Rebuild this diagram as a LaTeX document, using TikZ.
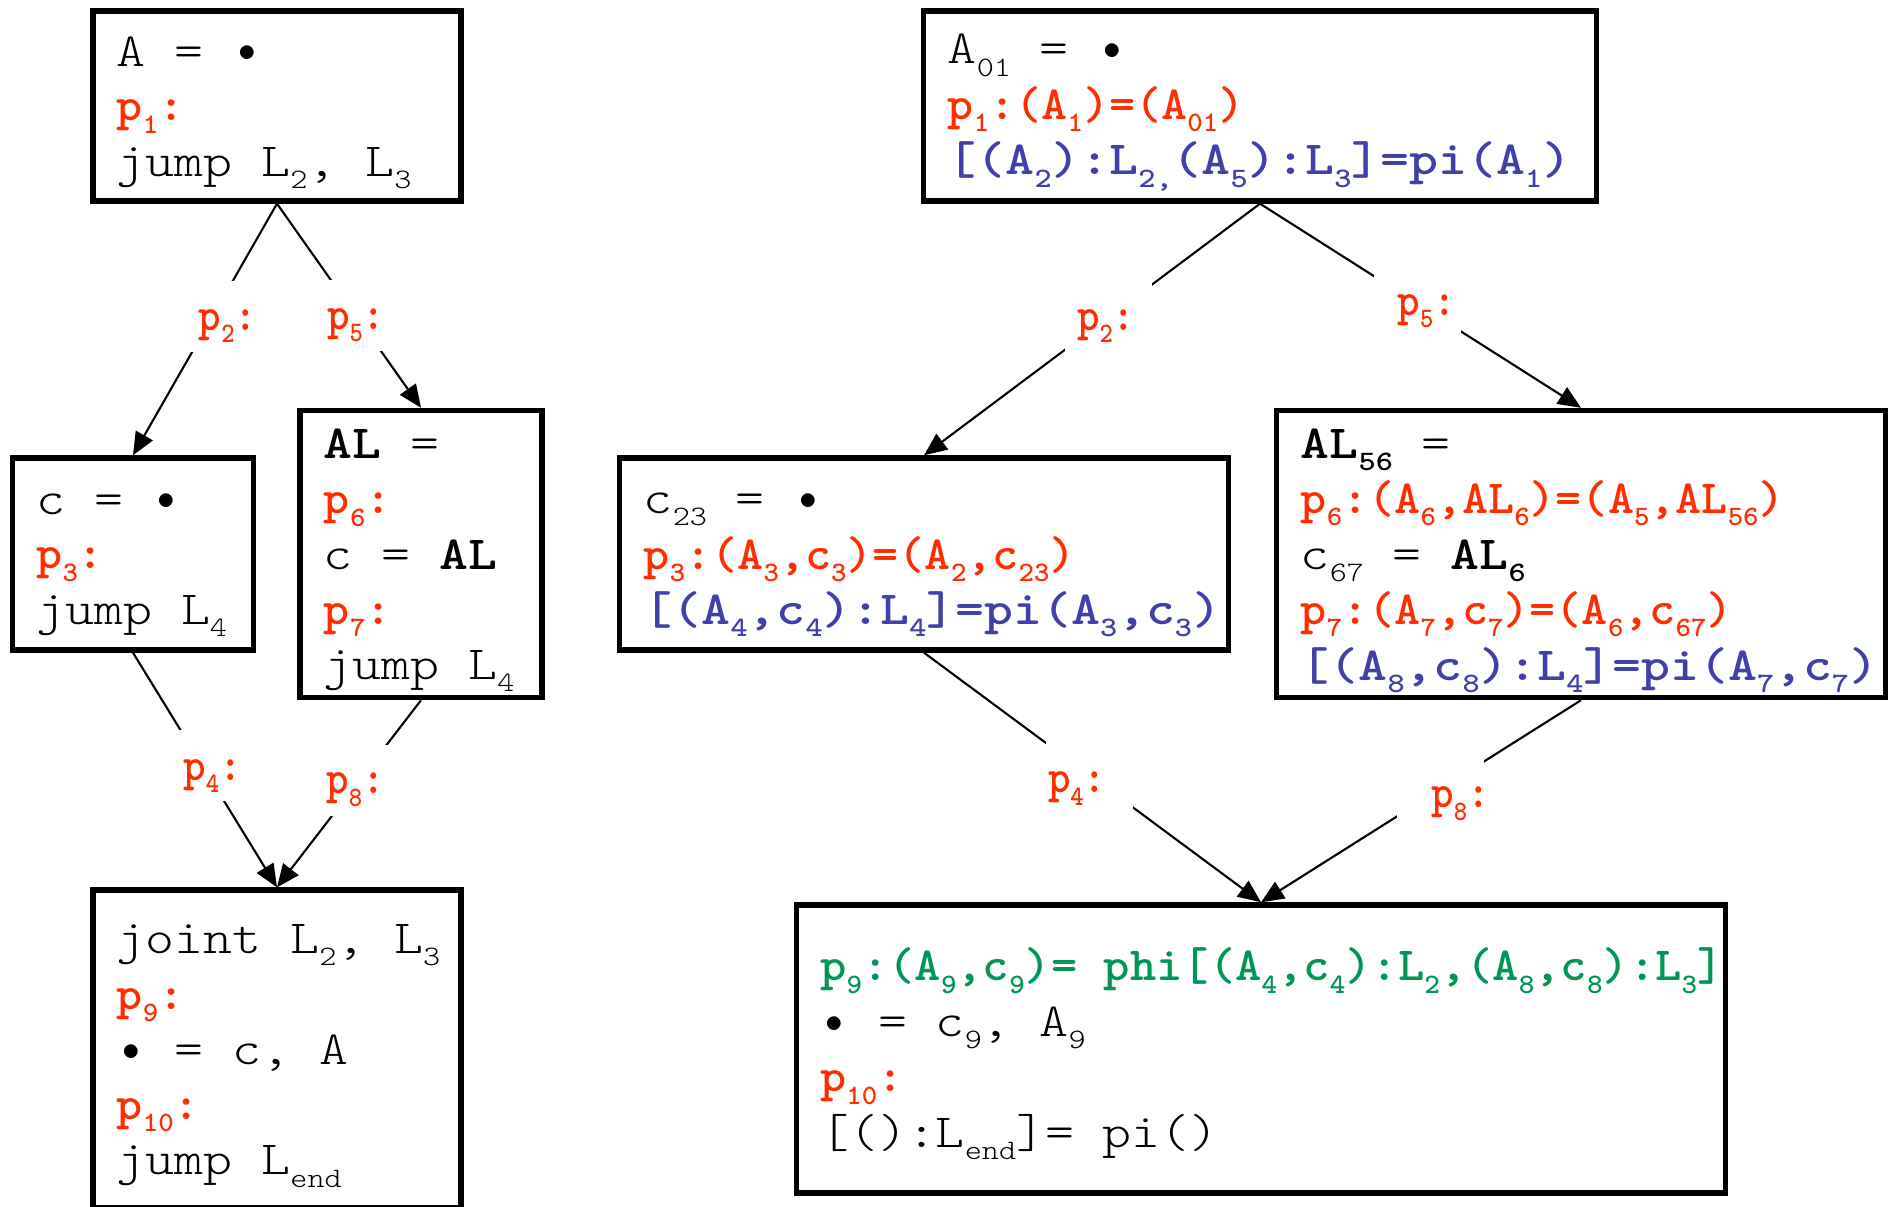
\documentclass[tikz,border=0pt]{standalone}
\usepackage{fontspec}
\setmainfont{lmmonolt10-regular.otf}[BoldFont=lmmonolt10-bold.otf]
\usepackage{xcolor}
\usepackage{graphicx}
\usetikzlibrary{arrows.meta}

\definecolor{pred}{RGB}{255,45,0}
\definecolor{pblue}{RGB}{64,64,170}
\definecolor{pgreen}{RGB}{0,150,85}

\newcommand{\sbs}[1]{\raisebox{-3.5pt}{\fontsize{8}{8}\selectfont #1}}
\newcommand{\blt}{\makebox[7.09pt]{\raisebox{1.2pt}{\scalebox{0.6}[0.7]{$\bullet$}}}}
\newcommand{\redtx}[1]{\scalebox{0.902}[1]{\textcolor{pred}{\bfseries #1}}}
\newcommand{\bluetx}[1]{\textcolor{pblue}{\bfseries #1}}
\newcommand{\greentx}[1]{\scalebox{0.91}[1]{\textcolor{pgreen}{\bfseries #1}}}
\newcommand{\ppt}[1]{\redtx{p\sbs{#1}:}}
% edge label, nudged inside its white patch
\newcommand{\plbl}[3]{\makebox[16.6pt][l]{\hspace{#1}\raisebox{#2}{\ppt{#3}}}}
% code lines, widened to the pitch of the listing
\newcommand{\prog}[1]{\setbox\strutbox\hbox{\vrule height 12.2pt depth 3.4pt width 0pt}%
    \spaceskip=7.09pt\relax
    \scalebox{1.16}[1]{\begin{tabular}{@{}l@{}}#1\end{tabular}}}

\begin{document}
\frenchspacing
\begin{tikzpicture}[x=0.01cm,y=-0.01cm,font=\fontsize{13.5}{15.6}\selectfont,
    blk/.style={draw,line width=1.5pt,align=left,inner xsep=0.24cm,inner ysep=0pt},
    lbl/.style={fill=white,inner sep=0pt,minimum width=0.87cm,minimum height=0.71cm,text height=9.5pt,text depth=2pt},
    arr/.style={line width=0.6pt,-{Triangle[length=6.5pt,width=5.5pt]}}]
        \useasboundingbox (0,0) rectangle (1892,1207);
        % plain program
        \node[blk,text width=3.2cm,minimum height=1.9cm] (A) at (277,106)
            {\prog{A = \blt\\ \ppt{1}\\ jump L\sbs{2}, L\sbs{3}}};
        \node[blk,text width=1.93cm,minimum height=1.92cm] (c) at (133,554)
            {\prog{c = \blt\\ \ppt{3}\\ jump L\sbs{4}}};
        \node[blk,text width=1.94cm,minimum height=2.87cm] (AL) at (421,554)
            {\prog{\textbf{AL} =\\ \ppt{6}\\ c = \textbf{AL}\\ \ppt{7}\\ jump L\sbs{4}}};
        \node[blk,text width=3.2cm,minimum height=3.18cm] (J) at (277,1049)
            {\prog{joint L\sbs{2}, L\sbs{3}\\ \ppt{9}\\ \blt{} = c, A\\ \ppt{10}\\ jump L\sbs{end}}};
        \draw[arr] (A.south) -- node[lbl,pos=.45] {\plbl{4.5pt}{0pt}{2}} (c.north);
        \draw[arr] (A.south) -- node[lbl,pos=.55] {\plbl{0pt}{0pt}{5}} (AL.north);
        \draw[arr] (c.south) -- node[lbl,pos=.48] {\plbl{3pt}{-0.6pt}{4}} (J.north);
        \draw[arr] (AL.south) -- node[lbl,pos=.43] {\plbl{-1pt}{0pt}{8}} (J.north);
        % transformed program
        \node[blk,text width=6.24cm,minimum height=1.9cm] (A01) at (1260,106)
            {\prog{A\sbs{01} = \blt\\
             \redtx{p\sbs{1}:(A\sbs{1})=(A\sbs{01})}\\
             \bluetx{[(A\sbs{2}):L\sbs{2,}(A\sbs{5}):L\sbs{3}]=pi(A\sbs{1})}}};
        \node[blk,text width=5.6cm,minimum height=1.92cm] (c23) at (924,554)
            {\prog{c\sbs{23} = \blt\\
             \redtx{p\sbs{3}:(A\sbs{3},c\sbs{3})=(A\sbs{2},c\sbs{23})}\\
             \bluetx{[(A\sbs{4},c\sbs{4}):L\sbs{4}]=pi(A\sbs{3},c\sbs{3})}}};
        \node[blk,text width=5.6cm,minimum height=2.87cm] (AL56) at (1581,554)
            {\prog{\textbf{AL\sbs{56}} =\\
             \redtx{p\sbs{6}:(A\sbs{6},AL\sbs{6})=(A\sbs{5},AL\sbs{56})}\\
             c\sbs{67} = \textbf{AL\sbs{6}}\\
             \redtx{p\sbs{7}:(A\sbs{7},c\sbs{7})=(A\sbs{6},c\sbs{67})}\\
             \bluetx{[(A\sbs{8},c\sbs{8}):L\sbs{4}]=pi(A\sbs{7},c\sbs{7})}}};
        \node[blk,text width=8.81cm,minimum height=2.88cm] (p9) at (1261,1049)
            {\prog{\greentx{p\sbs{9}:(A\sbs{9},c\sbs{9})= phi[(A\sbs{4},c\sbs{4}):L\sbs{2},(A\sbs{8},c\sbs{8}):L\sbs{3}]}\\
             \blt{} = c\sbs{9}, A\sbs{9}\\
             \ppt{10}\\
             {[}():L\sbs{end}]= pi()}};
        \draw[arr] (A01.south) -- node[lbl,pos=.45] {\plbl{-0.7pt}{0pt}{2}} (c23.north);
        \draw[arr] (A01.south) -- node[lbl,pos=.49] {\plbl{2.7pt}{0.5pt}{5}} (AL56.north);
        \draw[arr] (c23.south) -- node[lbl,pos=.49] {\plbl{-3.4pt}{-1.3pt}{4}} (p9.north);
        \draw[arr] (AL56.south) -- node[lbl,pos=.44] {\plbl{5.8pt}{-1.6pt}{8}} (p9.north);
    \end{tikzpicture}
\end{document}
